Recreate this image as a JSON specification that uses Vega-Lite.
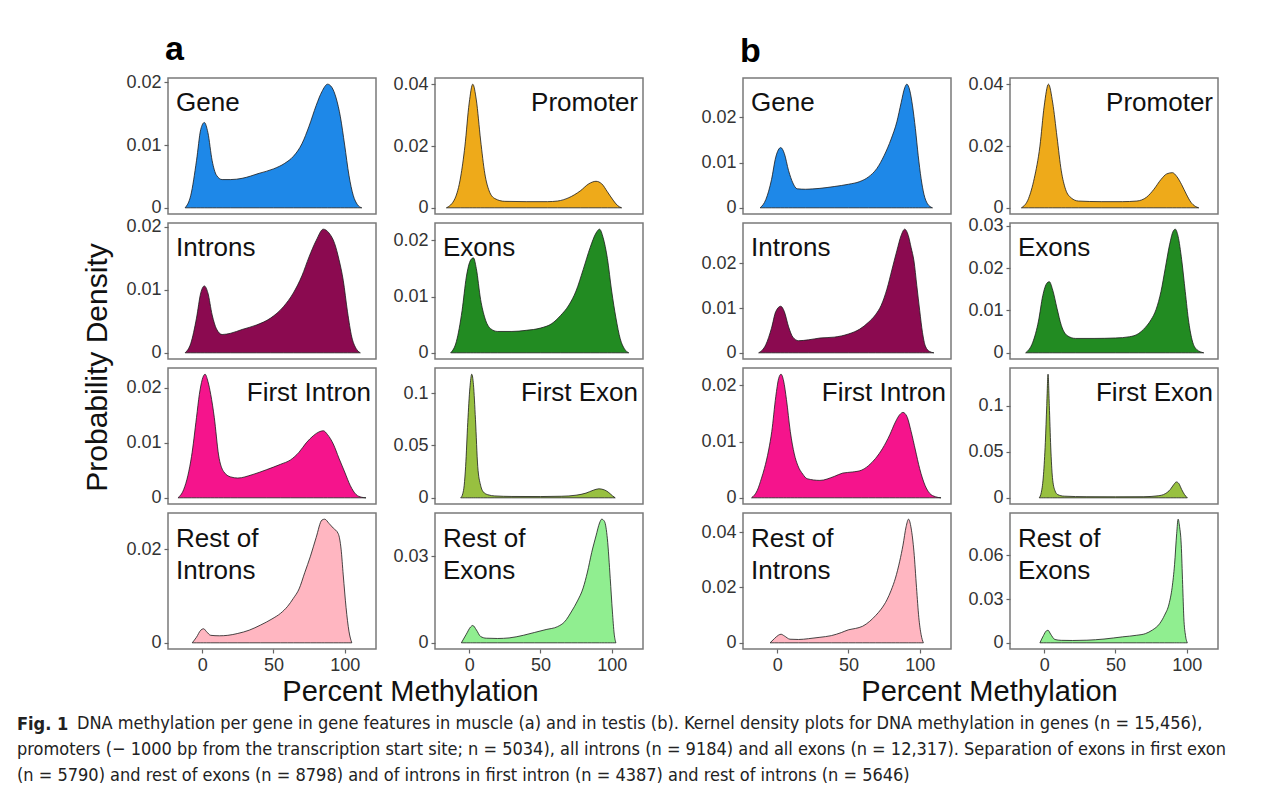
{
  "$schema": "https://vega.github.io/schema/vega-lite/v6.json",
  "padding": {"left": 17, "top": 32, "right": 5, "bottom": 5},
  "background": "white",
  "config": {
    "font": "Liberation Sans",
    "view": {"stroke": "#7a7a7a", "strokeWidth": 1.5},
    "axis": {"grid": false, "domain": false, "tickSize": 4, "tickColor": "#666666", "tickWidth": 1.2, "labelFont": "Liberation Sans", "labelFontSize": 18, "labelColor": "#333333", "labelPadding": 3, "titleFont": "Liberation Sans", "titleFontSize": 29, "titleFontWeight": "normal", "titleColor": "#111111"},
    "text": {"font": "Liberation Sans", "fontSize": 26, "fontWeight": "normal", "color": "#111111", "lineBreak": "\n", "lineHeight": 32},
    "area": {"interpolate": "monotone", "stroke": "#1a1a1a", "strokeWidth": 0.8}
  },
  "title": {"text": ["promoters (− 1000 bp from the transcription start site; n = 5034), all introns (n = 9184) and all exons (n = 12,317). Separation of exons in first exon", "(n = 5790) and rest of exons (n = 8798) and of introns in first intron (n = 4387) and rest of introns (n = 5646)"], "orient": "bottom", "anchor": "start", "frame": "group", "dx": -151, "offset": 7.5, "font": "'DejaVu Sans Condensed', 'Liberation Sans', sans-serif", "fontSize": 18, "fontWeight": "normal", "lineHeight": 25.5, "color": "#222222"},
  "vconcat": [
   {
    "title": {"text": "Fig. 1", "orient": "bottom", "anchor": "start", "frame": "group", "dx": -151, "dy": -17, "offset": 0, "font": "'DejaVu Sans Condensed', 'Liberation Sans', sans-serif", "fontSize": 18, "fontWeight": "bold", "color": "#222222"},
    "vconcat": [
    {
      "title": {"text": "DNA methylation per gene in gene features in muscle (a) and in testis (b). Kernel density plots for DNA methylation in genes (n = 15,456),", "orient": "bottom", "anchor": "start", "frame": "group", "dx": -91, "offset": 8, "font": "'DejaVu Sans Condensed', 'Liberation Sans', sans-serif", "fontSize": 18, "fontWeight": "normal", "color": "#222222"},
      "spacing": 56,
      "hconcat": [
        {
          "title": {"text": "a", "fontSize": 34, "fontWeight": "bold", "anchor": "start", "frame": "group", "dx": -3, "offset": 6, "color": "#000000", "font": "Liberation Sans"},
          "bounds": "flush", "columns": 2, "spacing": {"row": 9, "column": 59},
          "concat": [
              {"width": 208, "height": 136,
               "layer": [
                {"data": {"values": [{"x":-12,"d":0},{"x":-8,"d":0.002},{"x":-4,"d":0.0075},{"x":-1,"d":0.0125},{"x":1.5,"d":0.0136},{"x":4,"d":0.012},{"x":7,"d":0.0075},{"x":10,"d":0.0052},{"x":14,"d":0.0045},{"x":20,"d":0.0045},{"x":28,"d":0.0047},{"x":40,"d":0.0055},{"x":50,"d":0.0062},{"x":58,"d":0.0071},{"x":64,"d":0.0082},{"x":70,"d":0.0102},{"x":75,"d":0.013},{"x":80,"d":0.0163},{"x":84,"d":0.0185},{"x":88,"d":0.0197},{"x":91,"d":0.0192},{"x":94,"d":0.0175},{"x":97,"d":0.0145},{"x":100,"d":0.01},{"x":103,"d":0.0052},{"x":106,"d":0.002},{"x":109,"d":0.0005},{"x":112,"d":0}]},
                 "mark": {"type": "area", "fill": "#1E88E8"}, "encoding": {"x": {"field": "x", "type": "quantitative", "scale": {"domain": [-24, 122], "nice": false, "zero": false}, "axis": null}, "y": {"field": "d", "type": "quantitative", "title": null, "scale": {"domain": [-0.000985, 0.020685], "nice": false, "zero": false}, "axis": {"values": [0, 0.01, 0.02], "format": "~g"}}}},
                {"data": {"values": [{"label": "Gene"}]}, "mark": {"type": "text", "align": "left", "baseline": "top", "dx": 8, "dy": 12}, "encoding": {"x": {"datum": -24}, "y": {"datum": 0.020685}, "text": {"field": "label"}}}
               ]},
              {"width": 208, "height": 136,
               "layer": [
                {"data": {"values": [{"x":-16,"d":0},{"x":-10,"d":0.003},{"x":-6,"d":0.01},{"x":-3,"d":0.02},{"x":0,"d":0.034},{"x":2.5,"d":0.0401},{"x":5,"d":0.035},{"x":8,"d":0.022},{"x":11,"d":0.011},{"x":14,"d":0.0055},{"x":18,"d":0.003},{"x":25,"d":0.0021},{"x":40,"d":0.002},{"x":55,"d":0.002},{"x":62,"d":0.0022},{"x":70,"d":0.0033},{"x":78,"d":0.0055},{"x":84,"d":0.0078},{"x":89,"d":0.0086},{"x":93,"d":0.0078},{"x":97,"d":0.0052},{"x":101,"d":0.0025},{"x":104,"d":0.0008},{"x":107,"d":0}]},
                 "mark": {"type": "area", "fill": "#EEAA1A"}, "encoding": {"x": {"field": "x", "type": "quantitative", "scale": {"domain": [-24, 122], "nice": false, "zero": false}, "axis": null}, "y": {"field": "d", "type": "quantitative", "title": null, "scale": {"domain": [-0.002005, 0.042105], "nice": false, "zero": false}, "axis": {"values": [0, 0.02, 0.04], "format": "~g"}}}},
                {"data": {"values": [{"label": "Promoter"}]}, "mark": {"type": "text", "align": "right", "baseline": "top", "dx": -5, "dy": 12}, "encoding": {"x": {"datum": 122}, "y": {"datum": 0.042105}, "text": {"field": "label"}}}
               ]},
              {"width": 208, "height": 136,
               "layer": [
                {"data": {"values": [{"x":-12,"d":0},{"x":-8,"d":0.0015},{"x":-4,"d":0.0055},{"x":-1,"d":0.0095},{"x":1.5,"d":0.0106},{"x":4,"d":0.0095},{"x":7,"d":0.006},{"x":10,"d":0.0038},{"x":14,"d":0.0029},{"x":20,"d":0.0031},{"x":28,"d":0.0037},{"x":38,"d":0.0044},{"x":48,"d":0.0055},{"x":57,"d":0.0073},{"x":64,"d":0.0095},{"x":70,"d":0.0122},{"x":75,"d":0.0152},{"x":80,"d":0.0178},{"x":85,"d":0.0196},{"x":89,"d":0.019},{"x":93,"d":0.0173},{"x":96,"d":0.0148},{"x":99,"d":0.0115},{"x":102,"d":0.0065},{"x":105,"d":0.0025},{"x":108,"d":0.0007},{"x":111,"d":0}]},
                 "mark": {"type": "area", "fill": "#8B0A50"}, "encoding": {"x": {"field": "x", "type": "quantitative", "scale": {"domain": [-24, 122], "nice": false, "zero": false}, "axis": null}, "y": {"field": "d", "type": "quantitative", "title": "Probability Density", "scale": {"domain": [-0.00098, 0.02058], "nice": false, "zero": false}, "axis": {"values": [0, 0.01, 0.02], "format": "~g", "titleX": -71, "titleY": 144, "titleAngle": -90, "titleAlign": "center", "titleBaseline": "middle", "titleFontSize": 30}}}},
                {"data": {"values": [{"label": "Introns"}]}, "mark": {"type": "text", "align": "left", "baseline": "top", "dx": 8, "dy": 12}, "encoding": {"x": {"datum": -24}, "y": {"datum": 0.02058}, "text": {"field": "label"}}}
               ]},
              {"width": 208, "height": 136,
               "layer": [
                {"data": {"values": [{"x":-13,"d":0},{"x":-9,"d":0.002},{"x":-5,"d":0.0075},{"x":-2,"d":0.0135},{"x":1,"d":0.0165},{"x":3,"d":0.0169},{"x":5,"d":0.015},{"x":8,"d":0.0095},{"x":11,"d":0.0062},{"x":15,"d":0.0043},{"x":20,"d":0.0038},{"x":30,"d":0.0038},{"x":40,"d":0.004},{"x":50,"d":0.0044},{"x":58,"d":0.0052},{"x":64,"d":0.0066},{"x":70,"d":0.0085},{"x":75,"d":0.011},{"x":80,"d":0.0148},{"x":85,"d":0.0188},{"x":89,"d":0.0213},{"x":91.5,"d":0.022},{"x":94,"d":0.0205},{"x":97,"d":0.0168},{"x":100,"d":0.011},{"x":103,"d":0.0062},{"x":106,"d":0.0025},{"x":109,"d":0.0007},{"x":112,"d":0}]},
                 "mark": {"type": "area", "fill": "#228B22"}, "encoding": {"x": {"field": "x", "type": "quantitative", "scale": {"domain": [-24, 122], "nice": false, "zero": false}, "axis": null}, "y": {"field": "d", "type": "quantitative", "title": null, "scale": {"domain": [-0.0011, 0.0231], "nice": false, "zero": false}, "axis": {"values": [0, 0.01, 0.02], "format": "~g"}}}},
                {"data": {"values": [{"label": "Exons"}]}, "mark": {"type": "text", "align": "left", "baseline": "top", "dx": 8, "dy": 12}, "encoding": {"x": {"datum": -24}, "y": {"datum": 0.0231}, "text": {"field": "label"}}}
               ]},
              {"width": 208, "height": 136,
               "layer": [
                {"data": {"values": [{"x":-17,"d":0},{"x":-13,"d":0.0015},{"x":-10,"d":0.0041},{"x":-7.5,"d":0.0075},{"x":-4,"d":0.0146},{"x":-2,"d":0.0188},{"x":0,"d":0.0215},{"x":2,"d":0.0225},{"x":4,"d":0.0212},{"x":6,"d":0.0188},{"x":8.5,"d":0.0146},{"x":11.5,"d":0.0078},{"x":15,"d":0.0048},{"x":20,"d":0.0038},{"x":25,"d":0.0036},{"x":35,"d":0.0042},{"x":45,"d":0.0051},{"x":55,"d":0.0061},{"x":62,"d":0.0069},{"x":68,"d":0.0083},{"x":73,"d":0.01},{"x":78,"d":0.0113},{"x":82,"d":0.012},{"x":85,"d":0.0122},{"x":88,"d":0.0115},{"x":92,"d":0.0098},{"x":96,"d":0.0072},{"x":100,"d":0.0047},{"x":104,"d":0.0022},{"x":108,"d":0.0006},{"x":112,"d":0.0001},{"x":115,"d":0}]},
                 "mark": {"type": "area", "fill": "#F5148C"}, "encoding": {"x": {"field": "x", "type": "quantitative", "scale": {"domain": [-24, 122], "nice": false, "zero": false}, "axis": null}, "y": {"field": "d", "type": "quantitative", "title": null, "scale": {"domain": [-0.001125, 0.023625], "nice": false, "zero": false}, "axis": {"values": [0, 0.01, 0.02], "format": "~g"}}}},
                {"data": {"values": [{"label": "First Intron"}]}, "mark": {"type": "text", "align": "right", "baseline": "top", "dx": -5, "dy": 12}, "encoding": {"x": {"datum": 122}, "y": {"datum": 0.023625}, "text": {"field": "label"}}}
               ]},
              {"width": 208, "height": 136,
               "layer": [
                {"data": {"values": [{"x":-6,"d":0},{"x":-4.5,"d":0.004},{"x":-3.5,"d":0.012},{"x":-2.5,"d":0.03},{"x":-1,"d":0.072},{"x":0.5,"d":0.105},{"x":1.8,"d":0.118},{"x":3,"d":0.108},{"x":4.4,"d":0.075},{"x":6,"d":0.03},{"x":8,"d":0.012},{"x":10,"d":0.0055},{"x":13,"d":0.003},{"x":18,"d":0.0018},{"x":30,"d":0.0013},{"x":50,"d":0.0012},{"x":65,"d":0.0015},{"x":75,"d":0.0025},{"x":82,"d":0.0045},{"x":87,"d":0.0072},{"x":91,"d":0.0086},{"x":95,"d":0.0075},{"x":98,"d":0.005},{"x":100.5,"d":0.002},{"x":102.5,"d":0}]},
                 "mark": {"type": "area", "fill": "#98C040"}, "encoding": {"x": {"field": "x", "type": "quantitative", "scale": {"domain": [-24, 122], "nice": false, "zero": false}, "axis": null}, "y": {"field": "d", "type": "quantitative", "title": null, "scale": {"domain": [-0.0059, 0.1239], "nice": false, "zero": false}, "axis": {"values": [0, 0.05, 0.1], "format": "~g"}}}},
                {"data": {"values": [{"label": "First Exon"}]}, "mark": {"type": "text", "align": "right", "baseline": "top", "dx": -5, "dy": 12}, "encoding": {"x": {"datum": 122}, "y": {"datum": 0.1239}, "text": {"field": "label"}}}
               ]},
              {"width": 208, "height": 136,
               "layer": [
                {"data": {"values": [{"x":-7,"d":0},{"x":-4,"d":0.0012},{"x":-1,"d":0.0027},{"x":1,"d":0.003},{"x":3,"d":0.0024},{"x":6,"d":0.0016},{"x":12,"d":0.0015},{"x":18,"d":0.0016},{"x":25,"d":0.002},{"x":33,"d":0.0027},{"x":41,"d":0.0038},{"x":49,"d":0.0051},{"x":55,"d":0.0063},{"x":60,"d":0.0078},{"x":64,"d":0.0095},{"x":68,"d":0.0115},{"x":72,"d":0.015},{"x":76,"d":0.0185},{"x":80,"d":0.0225},{"x":84,"d":0.0262},{"x":86,"d":0.0264},{"x":89,"d":0.0255},{"x":92,"d":0.0245},{"x":95.5,"d":0.0233},{"x":97.5,"d":0.02},{"x":99,"d":0.0145},{"x":101,"d":0.0075},{"x":103,"d":0.0025},{"x":105,"d":0}]},
                 "mark": {"type": "area", "fill": "#FFB6C1"}, "encoding": {"x": {"field": "x", "type": "quantitative", "title": "Percent Methylation", "scale": {"domain": [-24, 122], "nice": false, "zero": false}, "axis": {"values": [0, 50, 100], "titleX": 242, "titleY": 42, "titleAlign": "center", "titleBaseline": "middle"}}, "y": {"field": "d", "type": "quantitative", "title": null, "scale": {"domain": [-0.00132, 0.02772], "nice": false, "zero": false}, "axis": {"values": [0, 0.02], "format": "~g"}}}},
                {"data": {"values": [{"label": "Rest of\nIntrons"}]}, "mark": {"type": "text", "align": "left", "baseline": "top", "dx": 8, "dy": 13}, "encoding": {"x": {"datum": -24}, "y": {"datum": 0.02772}, "text": {"field": "label"}}}
               ]},
              {"width": 208, "height": 136,
               "layer": [
                {"data": {"values": [{"x":-5.5,"d":0},{"x":-2,"d":0.003},{"x":1,"d":0.0055},{"x":2.5,"d":0.006},{"x":5,"d":0.0045},{"x":8,"d":0.0022},{"x":12,"d":0.0016},{"x":20,"d":0.0015},{"x":28,"d":0.0017},{"x":38,"d":0.0026},{"x":46,"d":0.0036},{"x":54,"d":0.0046},{"x":62,"d":0.0056},{"x":67,"d":0.0073},{"x":72,"d":0.011},{"x":76,"d":0.0145},{"x":80,"d":0.019},{"x":83,"d":0.0245},{"x":86,"d":0.0313},{"x":89,"d":0.037},{"x":91.5,"d":0.0415},{"x":93,"d":0.0428},{"x":95,"d":0.042},{"x":97,"d":0.036},{"x":99,"d":0.0223},{"x":100.5,"d":0.011},{"x":101.8,"d":0.003},{"x":103,"d":0}]},
                 "mark": {"type": "area", "fill": "#90EE90"}, "encoding": {"x": {"field": "x", "type": "quantitative", "title": null, "scale": {"domain": [-24, 122], "nice": false, "zero": false}, "axis": {"values": [0, 50, 100]}}, "y": {"field": "d", "type": "quantitative", "title": null, "scale": {"domain": [-0.00214, 0.04494], "nice": false, "zero": false}, "axis": {"values": [0, 0.03], "format": "~g"}}}},
                {"data": {"values": [{"label": "Rest of\nExons"}]}, "mark": {"type": "text", "align": "left", "baseline": "top", "dx": 8, "dy": 13}, "encoding": {"x": {"datum": -24}, "y": {"datum": 0.04494}, "text": {"field": "label"}}}
               ]}
          ]
        },
        {
          "title": {"text": "b", "fontSize": 34, "fontWeight": "bold", "anchor": "start", "frame": "group", "dx": -3, "offset": 6, "color": "#000000", "font": "Liberation Sans"},
          "bounds": "flush", "columns": 2, "spacing": {"row": 9, "column": 59},
          "concat": [
              {"width": 208, "height": 136,
               "layer": [
                {"data": {"values": [{"x":-12,"d":0},{"x":-8,"d":0.0018},{"x":-4,"d":0.0062},{"x":-1,"d":0.0112},{"x":2.5,"d":0.0133},{"x":5,"d":0.012},{"x":8,"d":0.0082},{"x":11,"d":0.0055},{"x":14,"d":0.0042},{"x":20,"d":0.0041},{"x":30,"d":0.0043},{"x":40,"d":0.0047},{"x":50,"d":0.0052},{"x":58,"d":0.0058},{"x":64,"d":0.0068},{"x":70,"d":0.0087},{"x":75,"d":0.0115},{"x":80,"d":0.0152},{"x":84,"d":0.019},{"x":87,"d":0.0232},{"x":89.5,"d":0.0265},{"x":91,"d":0.0273},{"x":93,"d":0.026},{"x":95,"d":0.0225},{"x":97,"d":0.0175},{"x":99,"d":0.0115},{"x":101,"d":0.0065},{"x":103,"d":0.003},{"x":105.5,"d":0.0009},{"x":109,"d":0}]},
                 "mark": {"type": "area", "fill": "#1E88E8"}, "encoding": {"x": {"field": "x", "type": "quantitative", "scale": {"domain": [-24, 122], "nice": false, "zero": false}, "axis": null}, "y": {"field": "d", "type": "quantitative", "title": null, "scale": {"domain": [-0.001365, 0.028665], "nice": false, "zero": false}, "axis": {"values": [0, 0.01, 0.02], "format": "~g"}}}},
                {"data": {"values": [{"label": "Gene"}]}, "mark": {"type": "text", "align": "left", "baseline": "top", "dx": 8, "dy": 12}, "encoding": {"x": {"datum": -24}, "y": {"datum": 0.028665}, "text": {"field": "label"}}}
               ]},
              {"width": 208, "height": 136,
               "layer": [
                {"data": {"values": [{"x":-16,"d":0},{"x":-11,"d":0.003},{"x":-7,"d":0.0095},{"x":-3,"d":0.02},{"x":0,"d":0.033},{"x":3,"d":0.0401},{"x":6,"d":0.034},{"x":9,"d":0.023},{"x":12,"d":0.012},{"x":15,"d":0.006},{"x":19,"d":0.0032},{"x":24,"d":0.0022},{"x":40,"d":0.002},{"x":55,"d":0.002},{"x":65,"d":0.0022},{"x":72,"d":0.0035},{"x":77,"d":0.006},{"x":82,"d":0.0092},{"x":86,"d":0.011},{"x":90,"d":0.0114},{"x":93,"d":0.0102},{"x":96.5,"d":0.0075},{"x":100,"d":0.0042},{"x":103,"d":0.0018},{"x":106,"d":0.0005},{"x":108.5,"d":0}]},
                 "mark": {"type": "area", "fill": "#EEAA1A"}, "encoding": {"x": {"field": "x", "type": "quantitative", "scale": {"domain": [-24, 122], "nice": false, "zero": false}, "axis": null}, "y": {"field": "d", "type": "quantitative", "title": null, "scale": {"domain": [-0.002005, 0.042105], "nice": false, "zero": false}, "axis": {"values": [0, 0.02, 0.04], "format": "~g"}}}},
                {"data": {"values": [{"label": "Promoter"}]}, "mark": {"type": "text", "align": "right", "baseline": "top", "dx": -5, "dy": 12}, "encoding": {"x": {"datum": 122}, "y": {"datum": 0.042105}, "text": {"field": "label"}}}
               ]},
              {"width": 208, "height": 136,
               "layer": [
                {"data": {"values": [{"x":-13,"d":0},{"x":-8,"d":0.0018},{"x":-4,"d":0.0055},{"x":-1,"d":0.0092},{"x":2.5,"d":0.0104},{"x":5,"d":0.0092},{"x":8,"d":0.0058},{"x":11,"d":0.0035},{"x":15,"d":0.0027},{"x":22,"d":0.0029},{"x":30,"d":0.0033},{"x":40,"d":0.0035},{"x":50,"d":0.0042},{"x":58,"d":0.0053},{"x":64,"d":0.0068},{"x":69,"d":0.0085},{"x":73,"d":0.0106},{"x":77,"d":0.0142},{"x":80.5,"d":0.0185},{"x":84,"d":0.0228},{"x":87,"d":0.0262},{"x":89.5,"d":0.0276},{"x":92,"d":0.0262},{"x":94,"d":0.0235},{"x":96,"d":0.0205},{"x":98,"d":0.015},{"x":100,"d":0.0095},{"x":102,"d":0.0045},{"x":104,"d":0.0015},{"x":107,"d":0.0003},{"x":110,"d":0}]},
                 "mark": {"type": "area", "fill": "#8B0A50"}, "encoding": {"x": {"field": "x", "type": "quantitative", "scale": {"domain": [-24, 122], "nice": false, "zero": false}, "axis": null}, "y": {"field": "d", "type": "quantitative", "title": null, "scale": {"domain": [-0.00138, 0.02898], "nice": false, "zero": false}, "axis": {"values": [0, 0.01, 0.02], "format": "~g"}}}},
                {"data": {"values": [{"label": "Introns"}]}, "mark": {"type": "text", "align": "left", "baseline": "top", "dx": 8, "dy": 12}, "encoding": {"x": {"datum": -24}, "y": {"datum": 0.02898}, "text": {"field": "label"}}}
               ]},
              {"width": 208, "height": 136,
               "layer": [
                {"data": {"values": [{"x":-13,"d":0},{"x":-8,"d":0.0025},{"x":-4,"d":0.0075},{"x":-1,"d":0.0135},{"x":2,"d":0.0165},{"x":3.6,"d":0.0168},{"x":6,"d":0.0148},{"x":9,"d":0.0105},{"x":12,"d":0.0065},{"x":16,"d":0.0041},{"x":22,"d":0.0034},{"x":35,"d":0.0034},{"x":50,"d":0.0035},{"x":60,"d":0.0038},{"x":66,"d":0.0045},{"x":71,"d":0.006},{"x":75,"d":0.0078},{"x":78.5,"d":0.0102},{"x":82,"d":0.0145},{"x":85,"d":0.02},{"x":88,"d":0.0255},{"x":90.5,"d":0.0287},{"x":92,"d":0.0292},{"x":94,"d":0.0275},{"x":96.5,"d":0.022},{"x":99,"d":0.0145},{"x":101.5,"d":0.0072},{"x":104,"d":0.0028},{"x":107,"d":0.0008},{"x":112,"d":0}]},
                 "mark": {"type": "area", "fill": "#228B22"}, "encoding": {"x": {"field": "x", "type": "quantitative", "scale": {"domain": [-24, 122], "nice": false, "zero": false}, "axis": null}, "y": {"field": "d", "type": "quantitative", "title": null, "scale": {"domain": [-0.00146, 0.03066], "nice": false, "zero": false}, "axis": {"values": [0, 0.01, 0.02, 0.03], "format": "~g"}}}},
                {"data": {"values": [{"label": "Exons"}]}, "mark": {"type": "text", "align": "left", "baseline": "top", "dx": 8, "dy": 12}, "encoding": {"x": {"datum": -24}, "y": {"datum": 0.03066}, "text": {"field": "label"}}}
               ]},
              {"width": 208, "height": 136,
               "layer": [
                {"data": {"values": [{"x":-18,"d":0},{"x":-14,"d":0.0013},{"x":-11,"d":0.0035},{"x":-9,"d":0.0052},{"x":-6,"d":0.0085},{"x":-3.8,"d":0.0118},{"x":-1,"d":0.018},{"x":1,"d":0.0212},{"x":2.7,"d":0.022},{"x":4.5,"d":0.0208},{"x":6.5,"d":0.0175},{"x":9.2,"d":0.0118},{"x":12,"d":0.0078},{"x":14.4,"d":0.0058},{"x":18,"d":0.0042},{"x":21,"d":0.0034},{"x":30,"d":0.0031},{"x":40,"d":0.0038},{"x":46,"d":0.0044},{"x":53,"d":0.0046},{"x":59,"d":0.0049},{"x":64,"d":0.0057},{"x":69,"d":0.007},{"x":74,"d":0.0088},{"x":79,"d":0.0112},{"x":83,"d":0.0135},{"x":86,"d":0.0148},{"x":88.3,"d":0.0152},{"x":91,"d":0.0145},{"x":94,"d":0.0118},{"x":97,"d":0.0085},{"x":100,"d":0.0052},{"x":103.8,"d":0.0022},{"x":107,"d":0.0008},{"x":111,"d":0.0002},{"x":115,"d":0}]},
                 "mark": {"type": "area", "fill": "#F5148C"}, "encoding": {"x": {"field": "x", "type": "quantitative", "scale": {"domain": [-24, 122], "nice": false, "zero": false}, "axis": null}, "y": {"field": "d", "type": "quantitative", "title": null, "scale": {"domain": [-0.0011, 0.0231], "nice": false, "zero": false}, "axis": {"values": [0, 0.01, 0.02], "format": "~g"}}}},
                {"data": {"values": [{"label": "First Intron"}]}, "mark": {"type": "text", "align": "right", "baseline": "top", "dx": -5, "dy": 12}, "encoding": {"x": {"datum": 122}, "y": {"datum": 0.0231}, "text": {"field": "label"}}}
               ]},
              {"width": 208, "height": 136,
               "layer": [
                {"data": {"values": [{"x":-3.5,"d":0},{"x":-2,"d":0.006},{"x":-0.5,"d":0.025},{"x":0.8,"d":0.06},{"x":1.8,"d":0.1},{"x":2.7,"d":0.134},{"x":3.6,"d":0.1},{"x":4.6,"d":0.055},{"x":5.8,"d":0.022},{"x":7.5,"d":0.008},{"x":9.5,"d":0.0035},{"x":14,"d":0.0018},{"x":30,"d":0.0012},{"x":50,"d":0.0011},{"x":70,"d":0.0012},{"x":80,"d":0.0022},{"x":85,"d":0.0045},{"x":88.5,"d":0.009},{"x":91,"d":0.0145},{"x":92.8,"d":0.0172},{"x":94.5,"d":0.0155},{"x":96.5,"d":0.009},{"x":98.5,"d":0.0035},{"x":100.5,"d":0}]},
                 "mark": {"type": "area", "fill": "#98C040"}, "encoding": {"x": {"field": "x", "type": "quantitative", "scale": {"domain": [-24, 122], "nice": false, "zero": false}, "axis": null}, "y": {"field": "d", "type": "quantitative", "title": null, "scale": {"domain": [-0.0067, 0.1407], "nice": false, "zero": false}, "axis": {"values": [0, 0.05, 0.1], "format": "~g"}}}},
                {"data": {"values": [{"label": "First Exon"}]}, "mark": {"type": "text", "align": "right", "baseline": "top", "dx": -5, "dy": 12}, "encoding": {"x": {"datum": 122}, "y": {"datum": 0.1407}, "text": {"field": "label"}}}
               ]},
              {"width": 208, "height": 136,
               "layer": [
                {"data": {"values": [{"x":-5,"d":0},{"x":-2,"d":0.0015},{"x":1,"d":0.0028},{"x":2.7,"d":0.0031},{"x":5,"d":0.0025},{"x":9,"d":0.0013},{"x":15,"d":0.0012},{"x":22,"d":0.0015},{"x":30,"d":0.002},{"x":38,"d":0.0026},{"x":45,"d":0.0037},{"x":50,"d":0.0047},{"x":55,"d":0.0052},{"x":60,"d":0.006},{"x":65,"d":0.0078},{"x":69,"d":0.0098},{"x":73,"d":0.0122},{"x":77,"d":0.0155},{"x":80,"d":0.019},{"x":83,"d":0.0234},{"x":86,"d":0.0295},{"x":88.3,"d":0.0353},{"x":90.5,"d":0.042},{"x":92.2,"d":0.0447},{"x":94,"d":0.0415},{"x":96,"d":0.0329},{"x":97.8,"d":0.02},{"x":99.4,"d":0.0092},{"x":101,"d":0.003},{"x":102.6,"d":0}]},
                 "mark": {"type": "area", "fill": "#FFB6C1"}, "encoding": {"x": {"field": "x", "type": "quantitative", "title": "Percent Methylation", "scale": {"domain": [-24, 122], "nice": false, "zero": false}, "axis": {"values": [0, 50, 100], "titleX": 246, "titleY": 42, "titleAlign": "center", "titleBaseline": "middle"}}, "y": {"field": "d", "type": "quantitative", "title": null, "scale": {"domain": [-0.002235, 0.046935], "nice": false, "zero": false}, "axis": {"values": [0, 0.02, 0.04], "format": "~g"}}}},
                {"data": {"values": [{"label": "Rest of\nIntrons"}]}, "mark": {"type": "text", "align": "left", "baseline": "top", "dx": 8, "dy": 13}, "encoding": {"x": {"datum": -24}, "y": {"datum": 0.046935}, "text": {"field": "label"}}}
               ]},
              {"width": 208, "height": 136,
               "layer": [
                {"data": {"values": [{"x":-3,"d":0},{"x":-0.5,"d":0.005},{"x":1.5,"d":0.0082},{"x":2.7,"d":0.0086},{"x":4.5,"d":0.006},{"x":7.5,"d":0.0023},{"x":12,"d":0.0017},{"x":20,"d":0.0016},{"x":30,"d":0.0018},{"x":42,"d":0.0026},{"x":55,"d":0.0041},{"x":65,"d":0.0052},{"x":71,"d":0.0063},{"x":76,"d":0.0088},{"x":81,"d":0.0131},{"x":84.5,"d":0.019},{"x":87.6,"d":0.0266},{"x":89.8,"d":0.038},{"x":91.5,"d":0.0537},{"x":93,"d":0.075},{"x":94,"d":0.0849},{"x":95,"d":0.08},{"x":96.2,"d":0.0673},{"x":97.2,"d":0.04},{"x":98,"d":0.0176},{"x":99.2,"d":0.005},{"x":100.5,"d":0}]},
                 "mark": {"type": "area", "fill": "#90EE90"}, "encoding": {"x": {"field": "x", "type": "quantitative", "title": null, "scale": {"domain": [-24, 122], "nice": false, "zero": false}, "axis": {"values": [0, 50, 100]}}, "y": {"field": "d", "type": "quantitative", "title": null, "scale": {"domain": [-0.004245, 0.089145], "nice": false, "zero": false}, "axis": {"values": [0, 0.03, 0.06], "format": "~g"}}}},
                {"data": {"values": [{"label": "Rest of\nExons"}]}, "mark": {"type": "text", "align": "left", "baseline": "top", "dx": 8, "dy": 13}, "encoding": {"x": {"datum": -24}, "y": {"datum": 0.089145}, "text": {"field": "label"}}}
               ]}
          ]
        }
      ]
    }
    ]
   }
  ]
}
